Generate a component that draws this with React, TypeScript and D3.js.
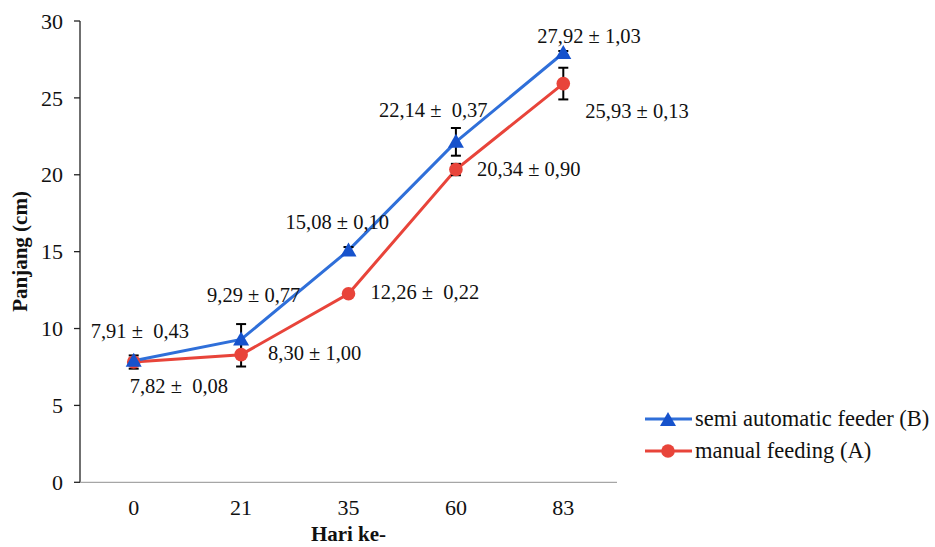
import React from 'react';
import * as d3 from 'd3';

const days = ['0', '21', '35', '60', '83'];
const semiAuto = [7.91, 9.29, 15.08, 22.14, 27.92];
const manual = [7.82, 8.30, 12.26, 20.34, 25.93];
const semiAutoLabels = ['7,91 ±  0,43', '9,29 ± 0,77', '15,08 ± 0,10', '22,14 ±  0,37', '27,92 ± 1,03'];
const manualLabels = ['7,82 ±  0,08', '8,30 ± 1,00', '12,26 ±  0,22', '20,34 ± 0,90', '25,93 ± 0,13'];
// error bars as drawn in the figure (they appear swapped between series)
const semiAutoErr = [0.08, 1.0, 0.22, 0.9, 0.13];
const manualErr = [0.43, 0.77, 0.1, 0.37, 1.03];
const yTicks = [0, 5, 10, 15, 20, 25, 30];

// label offsets relative to each point (pixels)
const semiAutoLabelPos = [[-43, -23], [-34, -37], [-63, -21], [-77, -25], [-26, -10]];
const manualLabelPos = [[-4, 31], [27, 5], [22, 5], [21, 6], [22, 34]];

const W = 935;
const H = 547;
const BLUE = '#2f6fd9';
const BLUE_MARK = '#1652cc';
const RED = '#e8443a';
const FONT = '"Liberation Serif", "Times New Roman", serif';

const triangle = (x: number, y: number) => `M${x},${y - 8}L${x + 8},${y + 6}L${x - 8},${y + 6}Z`;

const App = () => {
  const x = d3.scaleBand().domain(days).range([80, 617]);
  const y = d3.scaleLinear().domain([0, 30]).range([482.3, 21]);
  const cx = (d: string) => (x(d) as number) + x.bandwidth() / 2;

  const line = d3.line<number>()
    .x((_, i) => cx(days[i]))
    .y(v => y(v));

  const errBar = (vals: number[], errs: number[], key: string) =>
    vals.map((v, i) => {
      const px = cx(days[i]);
      const y1 = y(v - errs[i]);
      const y2 = y(v + errs[i]);
      return (
        <g key={key + i} stroke="#000" strokeWidth={2}>
          <line x1={px} x2={px} y1={y1} y2={y2} />
          <line x1={px - 5} x2={px + 5} y1={y1} y2={y1} />
          <line x1={px - 5} x2={px + 5} y1={y2} y2={y2} />
        </g>
      );
    });

  return (
    <div style={{ position: 'absolute', left: 0, top: 0 }}>
      <svg width={W} height={H} style={{ display: 'block', background: '#fff' }} fontFamily={FONT}>
        {/* y axis */}
        <line x1={80} x2={80} y1={y(30)} y2={y(0)} stroke="#222" strokeWidth={1.3} />
        {yTicks.map(t => (
          <g key={t}>
            <line x1={74} x2={80} y1={y(t)} y2={y(t)} stroke="#222" strokeWidth={1.3} />
            <text x={63} y={y(t)} dy="0.35em" textAnchor="end" fontSize={22} fill="#111">{t}</text>
          </g>
        ))}
        {/* x axis */}
        <line x1={80} x2={617} y1={y(0)} y2={y(0)} stroke="#a6a6a6" strokeWidth={1.3} />
        {days.map(d => (
          <text key={d} x={cx(d)} y={515} textAnchor="middle" fontSize={22} fill="#111">{d}</text>
        ))}
        <text x={348.5} y={541} textAnchor="middle" fontSize={21} fontWeight="bold" fill="#111">Hari ke-</text>
        <text transform={`translate(27,${251.5}) rotate(-90)`} textAnchor="middle" fontSize={21} fontWeight="bold" fill="#111">Panjang (cm)</text>

        {/* lines */}
        <path d={line(manual) || ''} fill="none" stroke={RED} strokeWidth={3} />
        <path d={line(semiAuto) || ''} fill="none" stroke={BLUE} strokeWidth={3} />

        {errBar(semiAuto, semiAutoErr, 'eb')}
        {errBar(manual, manualErr, 'em')}

        {/* markers */}
        {manual.map((v, i) => (
          <circle key={'m' + i} cx={cx(days[i])} cy={y(v)} r={6.8} fill={RED} />
        ))}
        {semiAuto.map((v, i) => (
          <path key={'s' + i} d={triangle(cx(days[i]), y(v))} fill={BLUE_MARK} />
        ))}

        {/* data labels */}
        {semiAuto.map((v, i) => (
          <text key={'ls' + i} x={cx(days[i]) + semiAutoLabelPos[i][0]} y={y(v) + semiAutoLabelPos[i][1]}
            fontSize={20.5} fill="#111" style={{ whiteSpace: 'pre' }}>{semiAutoLabels[i]}</text>
        ))}
        {manual.map((v, i) => (
          <text key={'lm' + i} x={cx(days[i]) + manualLabelPos[i][0]} y={y(v) + manualLabelPos[i][1]}
            fontSize={20.5} fill="#111" style={{ whiteSpace: 'pre' }}>{manualLabels[i]}</text>
        ))}

        {/* legend */}
        <g>
          <line x1={645} x2={692} y1={419} y2={419} stroke={BLUE} strokeWidth={3} />
          <path d={triangle(668, 420)} fill={BLUE_MARK} />
          <text x={695} y={426} fontSize={22.5} fill="#111">semi automatic feeder (B)</text>
          <line x1={645} x2={692} y1={451} y2={451} stroke={RED} strokeWidth={3} />
          <circle cx={668} cy={451} r={6.8} fill={RED} />
          <text x={695} y={458} fontSize={22.5} fill="#111">manual feeding (A)</text>
        </g>
      </svg>
    </div>
  );
};

export default App;
